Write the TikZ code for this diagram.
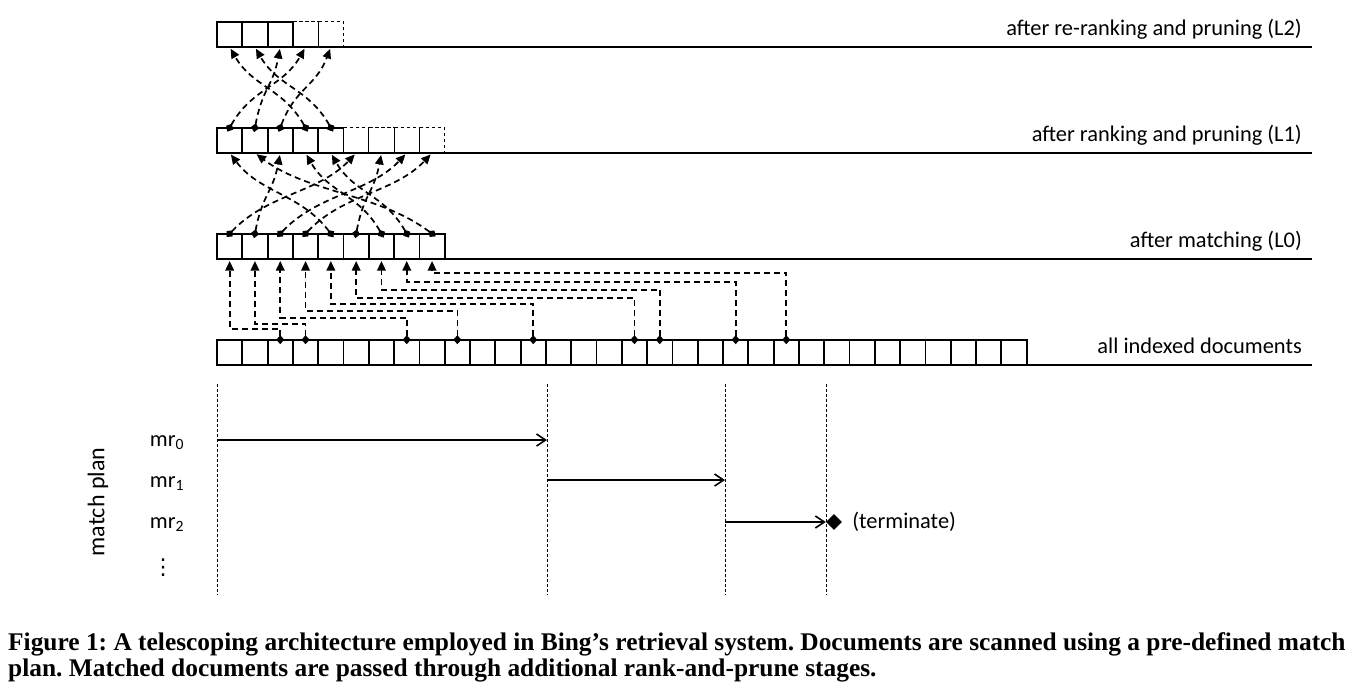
\documentclass[tikz,border=0pt]{standalone}
\usepackage{fontspec}
\setmainfont{Carlito}
\newfontfamily\capfont{Liberation Serif}
\newfontfamily\symfont{DejaVu Sans}
\usepackage{tikz}
\usetikzlibrary{arrows.meta,positioning,shapes.geometric}
\frenchspacing

\begin{document}
\begin{tikzpicture}[x=1pt,y=-1pt,
  cell/.style={draw,line width=1.8pt,minimum width=25.3pt,minimum height=25.3pt,
    inner sep=0pt,outer sep=0pt},
  spare/.style={cell,line width=0.8pt,dash pattern=on 3.5pt off 2.5pt},
  level/.style={line width=2pt},
  lbl/.style={font=\fontsize{22.4}{26}\selectfont,anchor=base east,inner sep=0pt},
  tag/.style={font=\fontsize{22.4}{26}\selectfont,inner sep=0pt},
  pass/.style={line width=1.7pt,dash pattern=on 6pt off 4pt,
    {Diamond[length=9pt,width=8pt]}-{Triangle[length=9.5pt,width=8.5pt]},
    shorten <=-4.5pt,shorten >=2pt},
  guide/.style={line width=0.8pt,dash pattern=on 3pt off 2pt},
  run/.style={line width=1.6pt,-{Straight Barb[length=9pt,width=12pt,line width=1.6pt]}},
  stop/.style={diamond,fill,minimum width=16pt,minimum height=16pt,inner sep=0pt},
  capt/.style={font=\capfont\bfseries\fontsize{25.4}{26}\selectfont,align=left,inner sep=0pt}]
  \useasboundingbox (0,0) rectangle (1360,694);
  \coordinate (edge) at (1312,0);

  % all indexed documents
  \node[cell] (doc0) at (229.65,352.35) {};
  \foreach \i [count=\j from 0] in {1,...,31}
    \node[cell,right=0pt of doc\j] (doc\i) {};
  % L0
  \node[cell] (mat0) at (229.65,246.35) {};
  \foreach \i [count=\j from 0] in {1,...,8}
    \node[cell,right=0pt of mat\j] (mat\i) {};
  % L1
  \node[cell] (rnk0) at (229.65,140.35) {};
  \foreach \i [count=\j from 0] in {1,...,4}
    \node[cell,right=0pt of rnk\j] (rnk\i) {};
  \foreach \i [count=\j from 4] in {5,...,8}
    \node[spare,right=0pt of rnk\j] (rnk\i) {};
  % L2
  \node[cell] (rer0) at (229.65,34.35) {};
  \foreach \i [count=\j from 0] in {1,2}
    \node[cell,right=0pt of rer\j] (rer\i) {};
  \foreach \i [count=\j from 2] in {3,4}
    \node[spare,right=0pt of rer\j] (rer\i) {};

  \foreach \r in {doc0,mat0,rnk0,rer0}
    \draw[level] (\r.south west) -- (\r.south west -| edge);

  \node[lbl] (lab2) at (1302,35) {after re-ranking and pruning (L2)};
  \node[lbl] (lab1) at (1302,141) {after ranking and pruning (L1)};
  \node[lbl] (lab0) at (1302,247) {after matching (L0)};
  \node[lbl] (labd) at (1302,353) {all indexed documents};

  % matching
  \foreach \s/\t/\d in {2/0/11,3/1/16,7/2/22,9/3/29,12/4/36,16/5/42,17/6/50,20/7/58,22/8/67}
    \draw[pass] (doc\s.north) -- ++(0,-\d) -| (mat\t.south);
  % ranking
  \foreach \s/\t in {0/5,1/2,2/7,3/8,4/0,5/6,6/3,7/4,8/1}{
    \pgfmathsetmacro\dx{0.3*25.3*(\t-\s)}
    \draw[pass] (mat\s.north) .. controls +(\dx,-40) and +(-\dx,40) .. (rnk\t.south);
  }
  % re-ranking
  \foreach \s/\t in {0/3,1/2,2/4,3/0,4/1}{
    \pgfmathsetmacro\dx{0.3*25.3*(\t-\s)}
    \draw[pass] (rnk\s.north) .. controls +(\dx,-40) and +(-\dx,40) .. (rer\t.south);
  }

  % match plan
  \foreach \x [count=\k from 0] in {217,547,725,826}{
    \coordinate (gt\k) at (\x,384);
    \coordinate (gb\k) at (\x,595);
    \draw[guide] (gt\k) -- (gb\k);
  }
  \node[tag,anchor=base] (mr0) at (167,446) {mr\textsubscript{0}};
  \node[tag,anchor=base] (mr1) at (167,487) {mr\textsubscript{1}};
  \node[tag,anchor=base] (mr2) at (167,528) {mr\textsubscript{2}};
  \node[tag,font=\symfont\fontsize{22}{24}\selectfont] (more) at (163,568) {⋮};
  \node[tag,font=\fontsize{24}{26}\selectfont,rotate=90] (plan) at (98,502) {match plan};

  \coordinate (a0) at (217,440);
  \coordinate (a1) at (547,440);
  \coordinate (b0) at (547,480);
  \coordinate (b1) at (725,480);
  \coordinate (c0) at (725,522);
  \node[stop] (halt) at (834,522) {};
  \node[tag,right=10pt of halt] (term) {(terminate)};
  \draw[run] (a0) -- (a1);
  \draw[run] (b0) -- (b1);
  \draw[run] (c0) -- (halt.west);

  \node[capt,anchor=north west] (cap) at (8,632) {Figure 1: A telescoping architecture employed in Bing’s retrieval system. Documents are scanned using a pre-defined match\\plan. Matched documents are passed through additional rank-and-prune stages.};
\end{tikzpicture}
\end{document}
